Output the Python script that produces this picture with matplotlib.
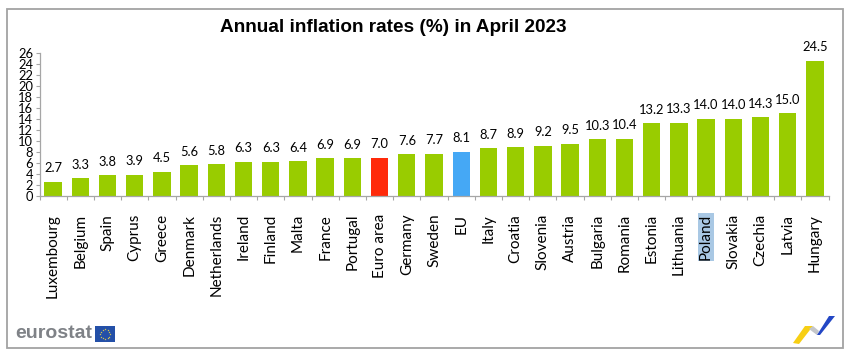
import numpy as np
import matplotlib
matplotlib.use('Agg')
import matplotlib.pyplot as plt
from matplotlib.patches import Rectangle, Polygon

countries = ['Luxembourg', 'Belgium', 'Spain', 'Cyprus', 'Greece', 'Denmark', 'Netherlands',
             'Ireland', 'Finland', 'Malta', 'France', 'Portugal', 'Euro area', 'Germany',
             'Sweden', 'EU', 'Italy', 'Croatia', 'Slovenia', 'Austria', 'Bulgaria', 'Romania',
             'Estonia', 'Lithuania', 'Poland', 'Slovakia', 'Czechia', 'Latvia', 'Hungary']
rates = [2.7, 3.3, 3.8, 3.9, 4.5, 5.6, 5.8, 6.3, 6.3, 6.4, 6.9, 6.9, 7.0, 7.6, 7.7, 8.1, 8.7,
         8.9, 9.2, 9.5, 10.3, 10.4, 13.2, 13.3, 14.0, 14.0, 14.3, 15.0, 24.5]
yticks = list(range(0, 27, 2))

GREEN = '#99cc00'
W, H = 850, 359

colors = [GREEN] * len(countries)
colors[countries.index('Euro area')] = '#ff2a0a'
colors[countries.index('EU')] = '#45a8f5'

fig = plt.figure(figsize=(W / 100, H / 100), dpi=100)
plt.rcParams['font.family'] = ['Lato', 'DejaVu Sans']

# axes box in pixels of the reference
ax = fig.add_axes([39.5 / W, 1 - 196.5 / H, (828.5 - 39.5) / W, (196.5 - 52.5) / H])

x = np.arange(len(countries))
ax.bar(x, rates, width=0.64, color=colors)
ax.set_xlim(-0.5, len(countries) - 0.5)
ax.set_ylim(0, 26)

for xi, r in zip(x, rates):
    ax.text(xi, r + 1.35, '%.1f' % r, ha='center', va='bottom', fontsize=9.3, color='black')

ax.set_yticks(yticks)
ax.set_yticklabels([str(t) for t in yticks], fontsize=9.3)
ax.set_xticks(np.arange(len(countries) + 1) - 0.5)
ax.set_xticklabels([])
ax.tick_params(axis='y', length=3, width=0.8, color='#a6a6a6', pad=1.5)
ax.tick_params(axis='x', length=3, width=0.8, color='#a6a6a6')
for s in ['top', 'right']:
    ax.spines[s].set_visible(False)
for s in ['left', 'bottom']:
    ax.spines[s].set_color('#a6a6a6')
    ax.spines[s].set_linewidth(0.9)

# country names, top aligned below the axis
for xi, name in zip(x, countries):
    bbox = None
    if name == 'Poland':
        bbox = dict(facecolor='#a9c8e4', edgecolor='none', pad=0.6)
    ax.annotate(name, (xi, 0), xytext=(0, -12.5), textcoords='offset points', rotation=90,
                ha='center', va='top', fontsize=11, color='black', bbox=bbox)

fig.text(393 / W, 1 - 28 / H, 'Annual inflation rates (%) in April 2023', ha='center', va='center',
         fontsize=13.7, fontweight='bold', family='Liberation Sans', color='black')


def px_rect(x0, y0, x1, y1, **kw):
    fig.add_artist(Rectangle((x0 / W, 1 - y1 / H), (x1 - x0) / W, (y1 - y0) / H,
                             transform=fig.transFigure, **kw))


def px_poly(points, **kw):
    pts = [(a / W, 1 - b / H) for a, b in points]
    fig.add_artist(Polygon(pts, closed=True, transform=fig.transFigure, edgecolor='none', **kw))


# outer frame
px_rect(7, 9, 842.5, 348, facecolor='none', edgecolor='#a3a3a3', linewidth=1.3)

# eurostat logo
fig.text(15 / W, 1 - 334 / H, 'eurostat', ha='left', va='center', fontsize=14, fontweight='bold',
         family='Liberation Sans', color='#7f8287')
px_rect(95, 326, 115, 342, facecolor='#2450a8', edgecolor='none')
angles = np.arange(12) * np.pi / 6
fig.add_artist(plt.Line2D((105 + 5 * np.cos(angles)) / W, (1 - (334 + 5 * np.sin(angles)) / H),
                          linestyle='none', marker='*', markersize=1.6, color='#e8d44a',
                          markeredgewidth=0, transform=fig.transFigure))

# swoosh logo bottom right
px_poly([(793, 343), (805, 326), (813, 326), (799, 344)], facecolor='#f7cf14')
px_poly([(809, 329), (813, 326), (819, 331), (817, 335)], facecolor='#c4c6ca')
px_poly([(817, 335), (829, 316), (835, 316), (820, 335)], facecolor='#2347c5')

fig.savefig('out.png', dpi=100)
